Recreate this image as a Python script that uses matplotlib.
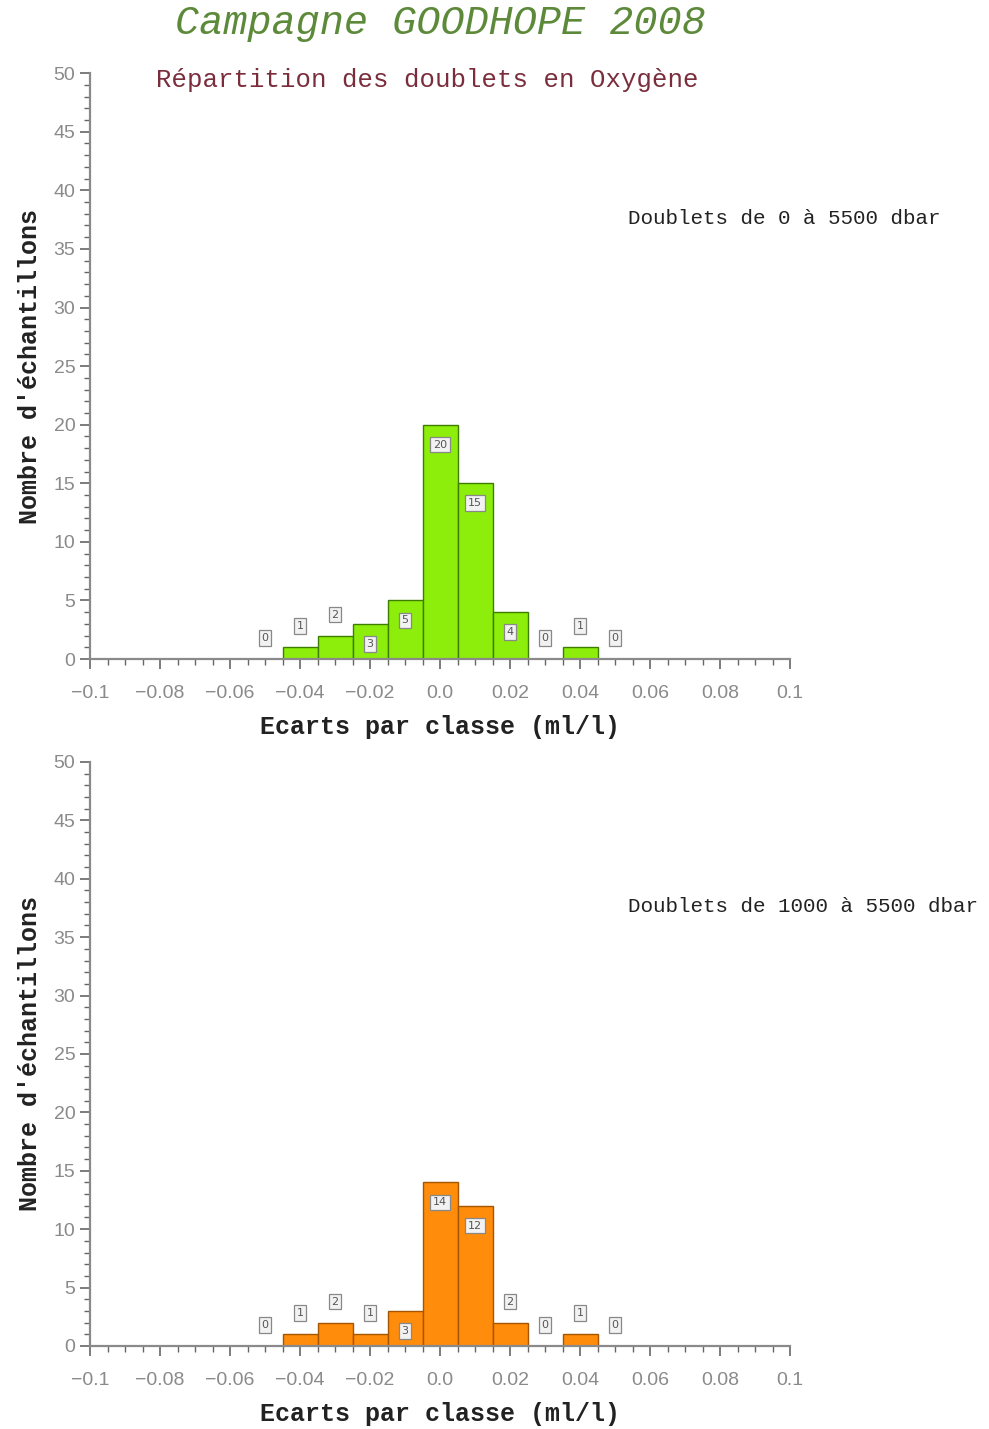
import numpy as np
import matplotlib
matplotlib.use("Agg")
import matplotlib.pyplot as plt
from matplotlib.ticker import MultipleLocator

# class centres (ml/l) and counts per class
centres = [-0.05, -0.04, -0.03, -0.02, -0.01, 0.0, 0.01, 0.02, 0.03, 0.04, 0.05]
counts_all = [0, 1, 2, 3, 5, 20, 15, 4, 0, 1, 0]     # 0 - 5500 dbar
counts_deep = [0, 1, 2, 1, 3, 14, 12, 2, 0, 1, 0]    # 1000 - 5500 dbar

xticks = [-0.1, -0.08, -0.06, -0.04, -0.02, 0.0, 0.02, 0.04, 0.06, 0.08, 0.1]
xticklabels = ["\u22120.1", "\u22120.08", "\u22120.06", "\u22120.04", "\u22120.02", "0.0",
               "0.02", "0.04", "0.06", "0.08", "0.1"]

MONO = "Liberation Mono"
GREY = "#8a8a8a"


def draw_panel(ax, counts, face, edge, note):
    ax.bar(centres, counts, width=0.01, color=face, edgecolor=edge, linewidth=1.0, zorder=2)
    for x, c in zip(centres, counts):
        y = c - 1.7 if c >= 3 else c + 1.8
        ax.text(x, y, str(c), ha="center", va="center", fontsize=8, color="#555555",
                family="DejaVu Sans", zorder=3,
                bbox=dict(boxstyle="square,pad=0.25", fc="#f2f2f2", ec="#888888", lw=0.9))
    ax.set_xlim(-0.1, 0.1)
    ax.set_ylim(0, 50)
    ax.set_xticks(xticks)
    ax.set_xticklabels(xticklabels)
    ax.xaxis.set_minor_locator(MultipleLocator(0.005))
    ax.set_yticks(np.arange(0, 51, 5))
    ax.yaxis.set_minor_locator(MultipleLocator(1))
    for s in ("top", "right"):
        ax.spines[s].set_visible(False)
    for s in ("left", "bottom"):
        ax.spines[s].set_color(GREY)
        ax.spines[s].set_linewidth(1.6)
    ax.tick_params(axis="both", which="major", length=7, width=1.2, color="#666666",
                   labelcolor=GREY, labelsize=14)
    ax.tick_params(axis="x", which="major", pad=12)
    ax.tick_params(axis="both", which="minor", length=4, width=1.0, color="#666666")
    for lab in ax.get_xticklabels() + ax.get_yticklabels():
        lab.set_family("Liberation Sans")
    ax.set_xlabel("Ecarts par classe (ml/l)", family=MONO, fontweight="bold",
                  fontsize=18, color="#222222", labelpad=9)
    ax.set_ylabel("Nombre d'échantillons", family=MONO, fontweight="bold",
                  fontsize=18, color="#222222", labelpad=8)
    ax.text(0.768, 0.752, note, transform=ax.transAxes, family=MONO, fontsize=15,
            color="#222222", ha="left", va="center")


fig = plt.figure(figsize=(9.89, 14.29), dpi=100)
ax1 = fig.add_axes([0.091, 0.5388, 0.708, 0.410])
ax2 = fig.add_axes([0.091, 0.0581, 0.708, 0.4087])

draw_panel(ax1, counts_all, "#8cee0a", "#3f7d00", "Doublets de 0 à 5500 dbar")
draw_panel(ax2, counts_deep, "#ff8c0a", "#a65500", "Doublets de 1000 à 5500 dbar")

fig.text(0.445, 0.9836, "Campagne GOODHOPE 2008", family=MONO, style="italic",
         fontsize=29, color="#5d8a3a", ha="center", va="center")
fig.text(0.432, 0.944, "Répartition des doublets en Oxygène", family=MONO,
         fontsize=18.5, color="#7a2e3c", ha="center", va="center")

fig.savefig("out.png", dpi=100)
